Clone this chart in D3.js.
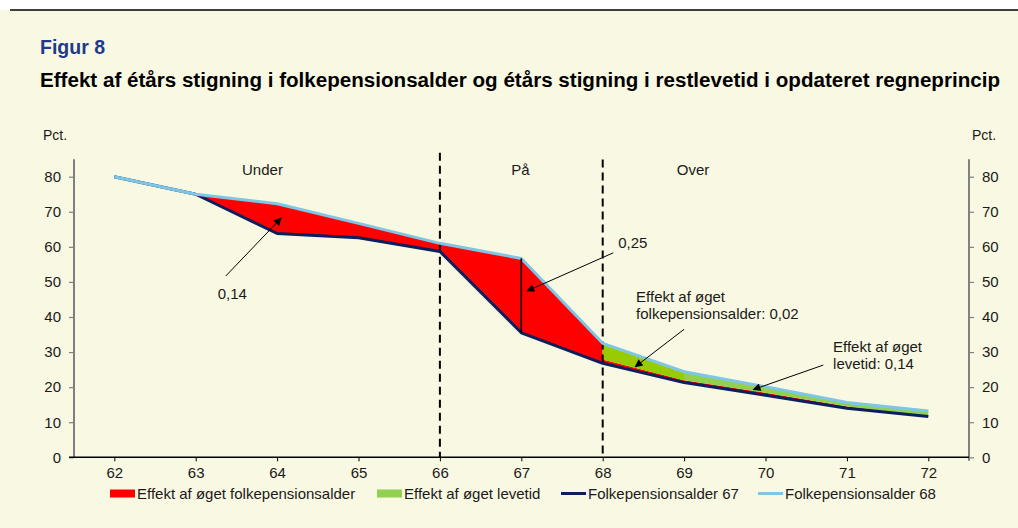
<!DOCTYPE html>
<html>
<head>
<meta charset="utf-8">
<script src="https://cdn.jsdelivr.net/npm/d3@7"></script>
<style>
  html, body { margin: 0; padding: 0; background: #ffffff; }
  svg { display: block; font-family: "Liberation Sans", Arial, sans-serif; }
</style>
</head>
<body>
<svg id="chart" width="1018" height="528"></svg>
<script>
// ---- Data ----
const years = [62, 63, 64, 65, 66, 67, 68, 69, 70, 71, 72];
const fpa67 = [80, 75, 63.8, 62.6, 58.7, 35.5, 26.8, 21.3, 17.7, 14.0, 11.6];
const fpa68 = [80, 75, 72.3, 66.7, 61.0, 56.7, 32.5, 24.4, 20.1, 15.6, 13.2];
// top of the "øget folkepensionsalder" band from age 68 on (below it: green band)
const overYears = [68, 69, 70, 71, 72];
const overFpaTop = [27.9, 22.0, 18.4, 14.5, 11.8];
const yTicks = [0, 10, 20, 30, 40, 50, 60, 70, 80];
const dividerYears = [66, 68];
const dividerTops = [86.8, 84.9];
const regionLabels = ["Under", "På", "Over"];
const regionX = [63.82, 66.99, 69.11];
const legendLabels = ["Effekt af øget folkepensionsalder", "Effekt af øget levetid", "Folkepensionsalder 67", "Folkepensionsalder 68"];
const titleFig = "Figur 8";
const titleMain = "Effekt af étårs stigning i folkepensionsalder og étårs stigning i restlevetid i opdateret regneprincip";
// annotations: text lines, text anchor (data units), arrow from/to (data units)
const annotations = [
  { lines: ["0,14"], x: 63.45, y: 45.0, anchor: "middle", from: [63.37, 51.7], to: [64.05, 68.2] },
  { lines: ["0,25"], x: 68.37, y: 59.6, anchor: "middle", from: [68.13, 58.3], to: [67.07, 47.4] },
  { lines: ["Effekt af øget", "folkepensionsalder: 0,02"], x: 68.41, y: 44.2, anchor: "start", from: [69.0, 36.5], to: [68.4, 25.8] },
  { lines: ["Effekt af øget", "levetid: 0,14"], x: 70.83, y: 29.9, anchor: "start", from: [70.71, 26.3], to: [69.85, 19.3] }
];

// ---- Colors ----
const C = {
  bg: "#F9F8E2", red: "#FF0000", green: "#92D050", green2: "#99CC00",
  navy: "#0B1F5E", sky: "#7DC6E6", axis: "#808080", text: "#1a1a1a", fig: "#1F3A8A"
};
const FS = 15;

const svg = d3.select("#chart");
svg.append("rect").attr("x", 0).attr("y", 10).attr("width", 1018).attr("height", 518).attr("fill", C.bg);
svg.append("line").attr("x1", 10).attr("x2", 1018).attr("y1", 10).attr("y2", 10)
  .attr("stroke", "#000").attr("stroke-width", 1.5);

const x = d3.scaleLinear().domain([62, 72]).range([114.3, 928.3]);
const y = d3.scaleLinear().domain([0, 80]).range([457.3, 176.7]);
const xLeft = 74, xRight = 969;

// Titles
svg.append("text").attr("x", 40).attr("y", 54).attr("fill", C.fig)
  .attr("font-size", 19.5).attr("font-weight", "bold").text(titleFig);
svg.append("text").attr("x", 40).attr("y", 87).attr("fill", "#000")
  .attr("font-size", 19.5).attr("font-weight", "bold")
  .attr("textLength", 960).attr("lengthAdjust", "spacingAndGlyphs").text(titleMain);
svg.append("text").attr("x", 43).attr("y", 140).attr("font-size", 14).attr("fill", C.text).text("Pct.");
svg.append("text").attr("x", 972).attr("y", 140).attr("font-size", 14).attr("fill", C.text).text("Pct.");

// Areas
const pts = years.map((yr, i) => ({ x: yr, lo: fpa67[i], hi: fpa68[i] }));
const redPts = pts.filter(d => d.x >= 63 && d.x <= 68)
  .concat(overYears.map((yr, i) => ({ x: yr, lo: fpa67[years.indexOf(yr)], hi: overFpaTop[i] })));
const greenPts = overYears.map((yr, i) => ({ x: yr, lo: overFpaTop[i], hi: fpa68[years.indexOf(yr)] }));

const area = d3.area().x(d => x(d.x)).y0(d => y(d.lo)).y1(d => y(d.hi));
svg.append("path").attr("d", area(redPts)).attr("fill", C.red);
svg.append("path").attr("d", area(greenPts)).attr("fill", C.green);
svg.append("path").attr("d", area(greenPts.filter(d => d.x <= 69))).attr("fill", C.green2);

// Divider dashed lines
dividerYears.forEach((yr, i) => {
  svg.append("line").attr("x1", x(yr)).attr("x2", x(yr)).attr("y1", y(dividerTops[i])).attr("y2", y(0))
    .attr("stroke", "#000").attr("stroke-width", 2).attr("stroke-dasharray", "8,5");
});

// Axes
const gL = svg.append("g").attr("transform", `translate(${xLeft},0)`)
  .call(d3.axisLeft(y).tickValues(yTicks).tickSize(5).tickPadding(8));
const gR = svg.append("g").attr("transform", `translate(${xRight},0)`)
  .call(d3.axisRight(y).tickValues(yTicks).tickSize(5).tickPadding(8));
[gL, gR].forEach(g => {
  g.select(".domain").remove();
  g.selectAll(".tick line").attr("stroke", C.axis).attr("stroke-width", 1.2);
  g.selectAll(".tick text").attr("font-size", FS).attr("fill", C.text).attr("font-family", "Liberation Sans, Arial, sans-serif");
});
svg.append("line").attr("x1", xLeft).attr("x2", xLeft).attr("y1", y(85)).attr("y2", y(0))
  .attr("stroke", C.axis).attr("stroke-width", 2);
svg.append("line").attr("x1", xRight).attr("x2", xRight).attr("y1", y(85)).attr("y2", y(0) + 3.5)
  .attr("stroke", C.axis).attr("stroke-width", 2);

const gB = svg.append("g").attr("transform", `translate(0,${y(0)})`)
  .call(d3.axisBottom(x).tickValues(years).tickFormat(d3.format("d")).tickSize(4).tickPadding(6));
gB.select(".domain").remove();
gB.selectAll(".tick line").attr("stroke", "#000");
gB.selectAll(".tick text").attr("font-size", FS).attr("fill", C.text).attr("font-family", "Liberation Sans, Arial, sans-serif");
svg.append("line").attr("x1", 69).attr("x2", xRight).attr("y1", y(0)).attr("y2", y(0))
  .attr("stroke", "#000").attr("stroke-width", 1.5);

// Lines
const lineGen = d3.line().x((d, i) => x(years[i])).y(d => y(d));
svg.append("path").attr("d", lineGen(fpa67)).attr("fill", "none").attr("stroke", C.navy).attr("stroke-width", 3).attr("stroke-linejoin", "round");
svg.append("path").attr("d", lineGen(fpa68)).attr("fill", "none").attr("stroke", C.sky).attr("stroke-width", 3).attr("stroke-linejoin", "round");

// Black vertical at 67
const i67 = years.indexOf(67);
svg.append("line").attr("x1", x(67)).attr("x2", x(67)).attr("y1", y(fpa68[i67])).attr("y2", y(fpa67[i67]))
  .attr("stroke", "#000").attr("stroke-width", 1.6);

// Region labels
regionLabels.forEach((t, i) => {
  svg.append("text").attr("x", x(regionX[i])).attr("y", 175).attr("text-anchor", "middle")
    .attr("font-size", FS).attr("fill", C.text).text(t);
});

// Annotations with arrows
const defs = svg.append("defs");
defs.append("marker").attr("id", "arr").attr("viewBox", "0 0 10 10").attr("refX", 9).attr("refY", 5)
  .attr("markerWidth", 10).attr("markerHeight", 8).attr("markerUnits", "userSpaceOnUse").attr("orient", "auto")
  .append("path").attr("d", "M0,0 L10,5 L0,10 z").attr("fill", "#000");
annotations.forEach(a => {
  const t = svg.append("text").attr("font-size", FS).attr("fill", C.text).attr("text-anchor", a.anchor);
  a.lines.forEach((l, j) => {
    t.append("tspan").attr("x", x(a.x)).attr("y", y(a.y) + j * 17).text(l);
  });
  svg.append("line").attr("x1", x(a.from[0])).attr("y1", y(a.from[1]))
    .attr("x2", x(a.to[0])).attr("y2", y(a.to[1]))
    .attr("stroke", "#000").attr("stroke-width", 1).attr("marker-end", "url(#arr)");
});

// Legend
const legY = 493.5;
const legX = [110, 377, 561, 758];
legendLabels.forEach((t, i) => {
  const g = svg.append("g");
  if (i < 2) {
    g.append("rect").attr("x", legX[i]).attr("y", legY - 4).attr("width", 25).attr("height", 8)
      .attr("fill", i === 0 ? C.red : C.green);
  } else {
    g.append("line").attr("x1", legX[i]).attr("x2", legX[i] + 25).attr("y1", legY).attr("y2", legY)
      .attr("stroke", i === 2 ? C.navy : C.sky).attr("stroke-width", 3);
  }
  g.append("text").attr("x", legX[i] + 27).attr("y", legY + 5).attr("font-size", FS).attr("fill", C.text).text(t);
});
</script>
</body>
</html>
